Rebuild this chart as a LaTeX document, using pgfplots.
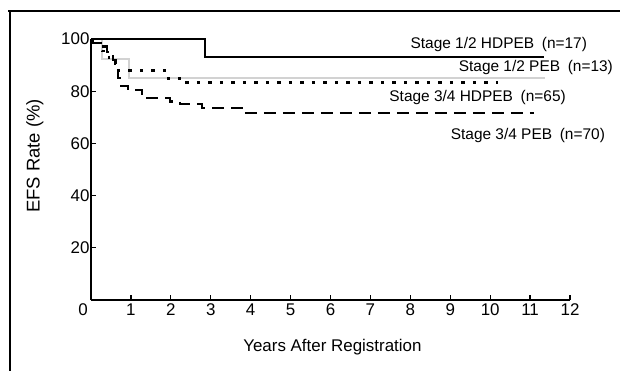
\documentclass[border=0pt]{standalone}
\usepackage{fontspec}
\setmainfont{Liberation Sans}
\usepackage{pgfplots}
\pgfplotsset{compat=1.18}
\begin{document}
\begin{tikzpicture}
\useasboundingbox (0bp,0bp) rectangle (620bp,371bp);
\draw[line width=1.3bp] (8bp,360bp) -- (620bp,360bp);
\draw[line width=1.3bp] (10bp,360bp) -- (10bp,0bp);
\begin{axis}[
  at={(91bp,71bp)}, anchor=south west,
  scale only axis, width=479bp, height=261bp,
  xmin=0, xmax=12, ymin=0, ymax=100,
  axis x line=bottom, axis y line=left,
  axis line style={-, line width=1.8bp},
  clip=false,
  xtick={1,...,12}, ytick={20,40,60,80,100},
  extra x ticks={0}, extra x tick labels={0},
  extra x tick style={major tick length=0pt, xticklabel style={xshift=-8bp}},
  tick align=inside, major tick length=5bp,
  tick style={line width=1.3bp, black},
  /pgf/number format/assume math mode=true,
  tick label style={font=\fontsize{17}{20}\selectfont},
  yticklabel style={xshift=2bp},
  xlabel={Years After Registration},
  ylabel={EFS Rate (\%)},
  xlabel style={font=\fontsize{17}{20}\selectfont, at={(axis description cs:0.504,-0.18)}, anchor=center},
  ylabel style={font=\fontsize{18.5}{20}\selectfont, at={(axis description cs:-0.117,0.552)}, anchor=center},
]
% Stage 1/2 PEB (gray)
\addplot[const plot, gray!35, line width=1.6bp] coordinates {(0,100) (0.27,92.3) (0.95,85) (11.38,85)};
% Stage 1/2 HDPEB (solid)
\addplot[const plot, black, line width=1.8bp] coordinates {(0,100) (2.86,93) (11.35,93)};
% Stage 3/4 HDPEB (dotted)
\addplot[const plot, black, line width=2.3bp, dash pattern=on 3.5bp off 8bp] coordinates {(0,100) (0.08,98.5) (0.28,95.4) (0.45,92.3) (0.6,87.9) (1.93,84.9) (2.23,83.3) (10.2,83.3)};
% Stage 3/4 PEB (dashed)
\addplot[const plot, black, line width=2.3bp, dash pattern=on 12bp off 7bp] coordinates {(0,100) (0.05,98.6) (0.2,97.1) (0.4,95) (0.55,92) (0.62,88.5) (0.67,85) (0.72,82) (0.93,80.5) (1.28,77.4) (1.98,76) (2.23,75) (2.78,73.6) (3.78,71.6) (11.1,71.6)};
\node[anchor=east, inner sep=0pt, font=\fontsize{15.5}{18}\selectfont] at (axis cs:12.43,97.7) {Stage 1/2 HDPEB\hspace{0.5em}(n=17)};
\node[anchor=east, inner sep=0pt, font=\fontsize{15.5}{18}\selectfont] at (axis cs:13.08,88.9) {Stage 1/2 PEB\hspace{0.5em}(n=13)};
\node[anchor=east, inner sep=0pt, font=\fontsize{15.5}{18}\selectfont] at (axis cs:11.9,77.4) {Stage 3/4 HDPEB\hspace{0.5em}(n=65)};
\node[anchor=east, inner sep=0pt, font=\fontsize{15.5}{18}\selectfont] at (axis cs:12.88,63.2) {Stage 3/4 PEB\hspace{0.5em}(n=70)};
\end{axis}
\end{tikzpicture}
\end{document}
